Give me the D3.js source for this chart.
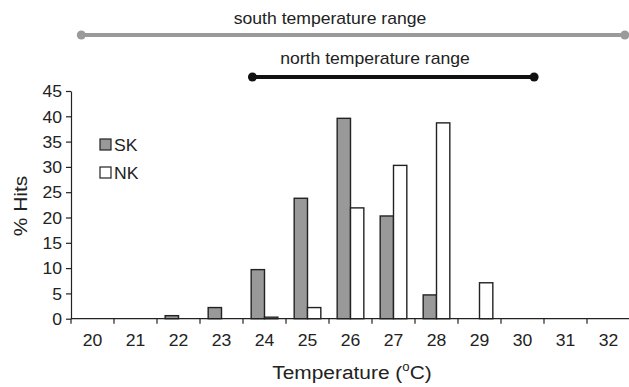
<!DOCTYPE html>
<html><head><meta charset="utf-8">
<script src="https://cdn.jsdelivr.net/npm/d3@7"></script>
<style>body{margin:0;background:#fff}svg{display:block}text{font-family:"Liberation Sans",Arial,sans-serif;fill:#222}</style>
</head><body>
<script>
const categories = ["20","21","22","23","24","25","26","27","28","29","30","31","32"];
const skValues = [0,0,0.6,2.2,9.7,23.8,39.6,20.3,4.7,0,0,0,0];
const nkValues = [0,0,0,0,0.3,2.2,21.9,30.3,38.7,7.1,0,0,0];
const seriesNames = ["SK","NK"];
const yTicks = [0,5,10,15,20,25,30,35,40,45];
const southRange = [19.74, 32.38];
const northRange = [23.72, 30.27];

const W = 629, H = 387, SX = 1.1;
const svg = d3.select("body").append("svg").attr("width", W).attr("height", H);

const x = d3.scaleBand().domain(categories).range([71, 630]).padding(0);
const bw = x.bandwidth();
const sub = d3.scaleBand().domain(seriesNames).range([bw*0.19, bw*0.81]).padding(0);
const y = d3.scaleLinear().domain([0,45]).range([318.7, 91]);
const xLin = d3.scaleLinear().domain([20,32]).range([x("20")+bw/2, x("32")+bw/2]);

// bars
const data = categories.map((c,i)=>({c, vals:[{k:"SK",v:skValues[i]},{k:"NK",v:nkValues[i]}]}));
const g = svg.append("g");
data.forEach(d=>{
  d.vals.forEach(b=>{
    if (b.v <= 0) return;
    g.append("rect")
      .attr("x", x(d.c)+sub(b.k))
      .attr("y", y(b.v))
      .attr("width", sub.bandwidth())
      .attr("height", y(0)-y(b.v))
      .attr("fill", b.k==="SK" ? "#999999" : "#ffffff")
      .attr("stroke", "#222")
      .attr("stroke-width", 1.4);
  });
});

// y axis
const yAxis = svg.append("g").attr("transform","translate(71,0)")
  .call(d3.axisLeft(y).tickValues(yTicks).tickSize(5).tickSizeOuter(0));
yAxis.select(".domain").attr("stroke","#222").attr("stroke-width",1.2);
yAxis.selectAll(".tick line").attr("stroke","#222").attr("stroke-width",1.2);
yAxis.selectAll("text").attr("x",-9/SX).attr("dy","0.36em").attr("transform",`scale(${SX},1)`)
  .style("font-size","16px").attr("fill","#222");

// x axis: ticks at band boundaries, labels centered
const xAxisG = svg.append("g").attr("transform",`translate(0,${y(0)})`);
xAxisG.append("line").attr("x1",71).attr("x2",630).attr("stroke","#222").attr("stroke-width",1.2);
const bounds = categories.map(c=>x(c)).concat([x(categories[categories.length-1])+bw]);
xAxisG.selectAll("line.tk").data(bounds).join("line").attr("class","tk")
  .attr("x1",d=>d).attr("x2",d=>d).attr("y1",0).attr("y2",5)
  .attr("stroke","#222").attr("stroke-width",1.2);
xAxisG.selectAll("text.lbl").data(categories).join("text").attr("class","lbl")
  .attr("transform",d=>`translate(${x(d)+bw/2},27) scale(${SX},1)`)
  .attr("text-anchor","middle").style("font-size","16px").text(d=>d);

// axis titles
svg.append("text").attr("transform",`translate(27,206) rotate(-90) scale(${SX},1)`)
  .attr("text-anchor","middle").style("font-size","19px").text("% Hits");
const t = svg.append("text").attr("transform",`translate(352,379) scale(${SX},1)`)
  .attr("text-anchor","middle").style("font-size","19px");
t.append("tspan").text("Temperature (");
t.append("tspan").attr("dy",-8).style("font-size","12px").text("o");
t.append("tspan").attr("dy",8).text("C)");

// legend
const leg = svg.append("g").attr("transform","translate(100,139)");
seriesNames.forEach((s,i)=>{
  leg.append("rect").attr("x",0).attr("y",i*28).attr("width",11).attr("height",11)
    .attr("fill", s==="SK" ? "#999999" : "#fff").attr("stroke","#222").attr("stroke-width",1.2);
  leg.append("text").attr("transform",`translate(14,${i*28+11.5}) scale(${SX},1)`)
    .style("font-size","16px").text(s);
});

// ranges
function rangeLine(r, yy, color, label, lx, ly){
  svg.append("line").attr("x1",xLin(r[0])).attr("x2",xLin(r[1])).attr("y1",yy).attr("y2",yy)
    .attr("stroke",color).attr("stroke-width",4);
  r.forEach(v=>svg.append("circle").attr("cx",xLin(v)).attr("cy",yy).attr("r",4.5).attr("fill",color));
  svg.append("text").attr("transform",`translate(${lx},${ly}) scale(${SX},1)`)
    .attr("text-anchor","middle").style("font-size","16px").text(label);
}
rangeLine(southRange, 35, "#9a9a9a", "south temperature range", 330, 24);
rangeLine(northRange, 77, "#111111", "north temperature range", 375, 64);
</script>
</body></html>
